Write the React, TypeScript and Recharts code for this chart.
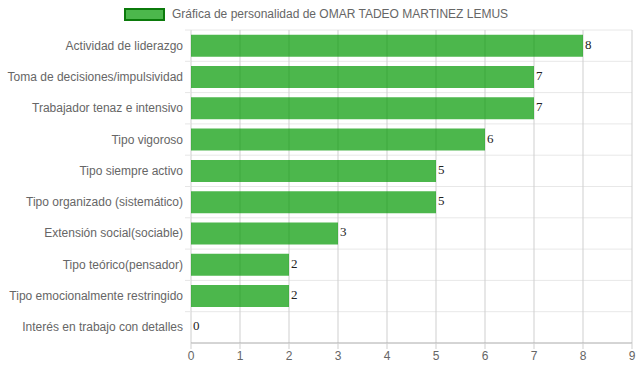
import React from 'react';
import {
  BarChart, Bar, XAxis, YAxis, CartesianGrid, Legend, LabelList,
} from 'recharts';

const categories = [
  'Actividad de liderazgo',
  'Toma de decisiones/impulsividad',
  'Trabajador tenaz e intensivo',
  'Tipo vigoroso',
  'Tipo siempre activo',
  'Tipo organizado (sistemático)',
  'Extensión social(sociable)',
  'Tipo teórico(pensador)',
  'Tipo emocionalmente restringido',
  'Interés en trabajo con detalles',
];
const scores = [8, 7, 7, 6, 5, 5, 3, 2, 2, 0];
const xTicks = [0, 1, 2, 3, 4, 5, 6, 7, 8, 9];
const seriesName = 'Gráfica de personalidad de OMAR TADEO MARTINEZ LEMUS';

const data = categories.map((name, i) => ({ name, value: scores[i] }));

const W = 639;
const H = 372;
const FONT = '"Liberation Sans", Arial, sans-serif';
const SERIF = '"Liberation Serif", "Times New Roman", serif';
const PLOT_TOP = 30;
const PLOT_BOTTOM = 343;
const ROW_H = (PLOT_BOTTOM - PLOT_TOP) / categories.length;

function LegendBox() {
  return (
    <div
      style={{
        height: 30,
        display: 'flex',
        alignItems: 'center',
        justifyContent: 'center',
        fontFamily: FONT,
        fontSize: 12,
        color: '#666',
      }}
    >
      <span
        style={{
          display: 'inline-block',
          width: 37,
          height: 9,
          background: 'rgba(0,153,0,0.7)',
          border: '2px solid #0b7a0b',
          marginRight: 7,
          marginTop: -2,
        }}
      />
      <span style={{ marginTop: -2 }}>{seriesName}</span>
    </div>
  );
}

function CatTick(props: any) {
  const { x, y, payload } = props;
  const top = y - ROW_H / 2;
  return (
    <g>
      <line x1={185} x2={191} y1={top} y2={top} stroke="#e6e6e6" />
      <text
        x={x}
        y={y}
        dy={4}
        textAnchor="end"
        fill="#666"
        fontSize={12}
        fontFamily={FONT}
      >
        {payload.value}
      </text>
    </g>
  );
}

function ValueLabel(props: any) {
  const { x, y, width, height, value } = props;
  return (
    <text
      x={x + width + 2}
      y={y + height / 2}
      dy={3}
      fill="#222"
      fontSize={13}
      fontFamily={SERIF}
    >
      {value}
    </text>
  );
}

export default function App() {
  return (
    <div style={{ position: 'absolute', left: 0, top: 0, background: '#fff' }}>
      <BarChart
        width={W}
        height={H}
        data={data}
        layout="vertical"
        margin={{ top: 0, right: 7, bottom: 7, left: 0 }}
        barCategoryGap="15%"
      >
        <Legend verticalAlign="top" height={30} content={() => <LegendBox />} />
        <CartesianGrid
          horizontal
          vertical={false}
          stroke="#e8e8e8"
          horizontalCoordinatesGenerator={({ offset }: any) =>
            categories.map((_, i) => offset.top + (offset.height / categories.length) * i)
          }
        />
        <CartesianGrid horizontal={false} vertical stroke="#cfcfcf" />
        <XAxis
          type="number"
          domain={[0, 9]}
          ticks={xTicks}
          interval={0}
          height={22}
          axisLine={{ stroke: '#aaa' }}
          tickLine={{ stroke: '#cfcfcf' }}
          tickSize={6}
          tick={{ fill: '#666', fontSize: 12, fontFamily: FONT }}
        />
        <YAxis
          type="category"
          dataKey="name"
          width={191}
          axisLine={false}
          tickLine={false}
          tickSize={6}
          interval={0}
          tick={<CatTick />}
        />
        <Bar
          dataKey="value"
          name={seriesName}
          fill="rgb(0,153,0)"
          fillOpacity={0.7}
          minPointSize={0.01}
          isAnimationActive={false}
        >
          <LabelList dataKey="value" content={<ValueLabel />} />
        </Bar>
      </BarChart>
    </div>
  );
}
